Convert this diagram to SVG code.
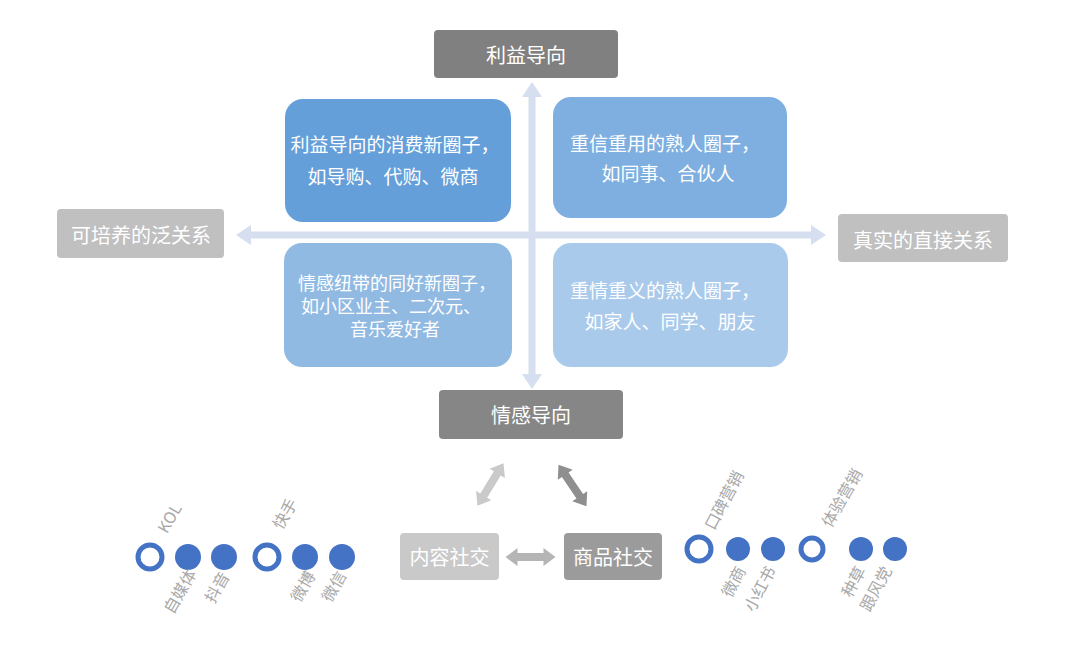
<svg xmlns="http://www.w3.org/2000/svg" xmlns:xlink="http://www.w3.org/1999/xlink" width="1080" height="651" viewBox="0 0 1080 651">
<style>
text{font-family:"Noto Sans CJK SC","Liberation Sans",sans-serif}
.lbl{fill:#ffffff;font-size:20px;text-anchor:middle;dominant-baseline:central}
.q{fill:#ffffff;font-size:19px;text-anchor:middle;dominant-baseline:central}
.qs{fill:#ffffff;font-size:18px;text-anchor:middle;dominant-baseline:central}
.tag{fill:#a8a8a8;font-size:16px;dominant-baseline:central}
.ring{fill:#ffffff;stroke:#4472c4;stroke-width:5}
.dot{fill:#4472c4}
.axis{fill:#d5dfef}
</style>
<defs>
<path id="dbl" d="M-25,0 L-13,-9 L-13,-4 L13,-4 L13,-9 L25,0 L13,9 L13,4 L-13,4 L-13,9 Z"/>
</defs>
<rect width="1080" height="651" fill="#ffffff"/>

<g id="connectors">
<path class="axis" d="M532,82 L542,97 L535.5,97 L535.5,374 L542,374 L532,389 L522,374 L528.5,374 L528.5,97 L522,97 Z"/>
<path class="axis" d="M236,235 L251,225 L251,231.5 L811,231.5 L811,225 L826,235 L811,245 L811,238.5 L251,238.5 L251,245 Z"/>
<use xlink:href="#dbl" fill="#b5b5b5" transform="translate(530.5,557)"/>
<use xlink:href="#dbl" fill="#cacaca" transform="translate(490.5,484.5) rotate(-58.6)"/>
<use xlink:href="#dbl" fill="#8f8f8f" transform="translate(572.5,485.5) rotate(56)"/>
</g>

<g id="top">
<rect x="434" y="30" width="184" height="48" rx="4" fill="#808080"/>
<text class="lbl" x="526" y="54">利益导向</text>
</g>
<g id="bottom">
<rect x="439" y="390" width="184" height="49" rx="4" fill="#868686"/>
<text class="lbl" x="531" y="414">情感导向</text>
</g>
<g id="left">
<rect x="57" y="209" width="167" height="49" rx="4" fill="#c0c0c0"/>
<text class="lbl" x="141" y="234">可培养的泛关系</text>
</g>
<g id="right">
<rect x="838" y="214" width="170" height="48" rx="4" fill="#c0c0c0"/>
<text class="lbl" x="923" y="239">真实的直接关系</text>
</g>

<g id="q-tl">
<rect x="285" y="99" width="226" height="123" rx="18" fill="#659fda"/>
<text class="q" x="395" y="143">利益导向的消费新圈子，</text>
<text class="q" x="393" y="175">如导购、代购、微商</text>
</g>
<g id="q-tr">
<rect x="553" y="97" width="234" height="121" rx="18" fill="#7eafe0"/>
<text class="q" x="665" y="142">重信重用的熟人圈子，</text>
<text class="q" x="668" y="172">如同事、合伙人</text>
</g>
<g id="q-bl">
<rect x="284" y="243" width="228" height="124" rx="18" fill="#91bae3"/>
<text class="qs" x="397" y="282">情感纽带的同好新圈子，</text>
<text class="qs" x="391" y="305">如小区业主、二次元、</text>
<text class="qs" x="395" y="328">音乐爱好者</text>
</g>
<g id="q-br">
<rect x="553" y="243" width="235" height="124" rx="18" fill="#a9caeb"/>
<text class="q" x="665" y="289">重情重义的熟人圈子，</text>
<text class="q" x="670" y="320">如家人、同学、朋友</text>
</g>

<g id="content-social">
<rect x="400" y="533" width="99" height="47" rx="4" fill="#c9c9c9"/>
<text class="lbl" x="449.5" y="556">内容社交</text>
</g>
<g id="goods-social">
<rect x="564" y="533" width="98" height="47" rx="4" fill="#9b9b9b"/>
<text class="lbl" x="613" y="556">商品社交</text>
</g>

<g id="left-dots">
<circle class="ring" cx="150" cy="557" r="12"/>
<circle class="dot" cx="188" cy="557" r="13"/>
<circle class="dot" cx="224" cy="557" r="13"/>
<circle class="ring" cx="267" cy="557" r="12"/>
<circle class="dot" cx="305" cy="557" r="13"/>
<circle class="dot" cx="342" cy="557" r="13"/>
<text class="tag" transform="translate(161,531) rotate(-60)">KOL</text>
<text class="tag" transform="translate(276,527) rotate(-60)">快手</text>
<text class="tag" text-anchor="end" transform="translate(191,570) rotate(-60)">自媒体</text>
<text class="tag" text-anchor="end" transform="translate(224,573) rotate(-60)">抖音</text>
<text class="tag" text-anchor="end" transform="translate(310,572) rotate(-60)">微博</text>
<text class="tag" text-anchor="end" transform="translate(341,572) rotate(-60)">微信</text>
</g>

<g id="right-dots">
<circle class="ring" cx="699" cy="549" r="12"/>
<circle class="dot" cx="738" cy="549" r="12"/>
<circle class="dot" cx="773" cy="549" r="12"/>
<circle class="ring" cx="812" cy="549" r="11"/>
<circle class="dot" cx="861" cy="549" r="12"/>
<circle class="dot" cx="895" cy="549" r="12"/>
<text class="tag" transform="translate(708,528) rotate(-62)">口碑营销</text>
<text class="tag" transform="translate(825,525) rotate(-60)">体验营销</text>
<text class="tag" text-anchor="end" transform="translate(740,567) rotate(-62)">微商</text>
<text class="tag" text-anchor="end" transform="translate(770,567) rotate(-62)">小红书</text>
<text class="tag" text-anchor="end" transform="translate(860,567) rotate(-62)">种草</text>
<text class="tag" text-anchor="end" transform="translate(886,567) rotate(-62)">跟风党</text>
</g>
</svg>
